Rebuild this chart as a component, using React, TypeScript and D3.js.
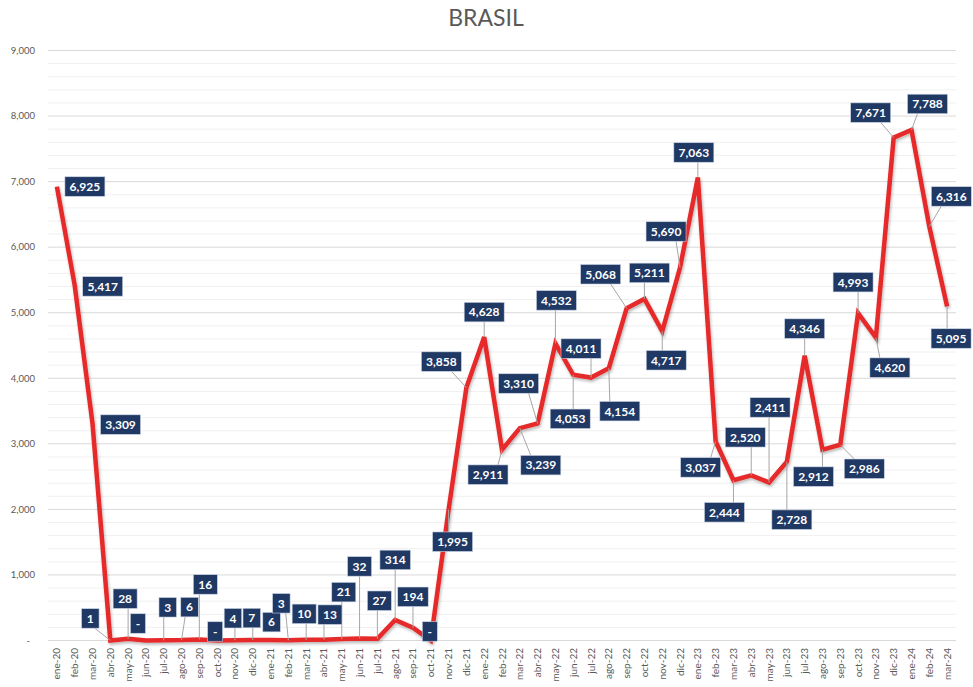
import React from "react";
import * as d3 from "d3";

const months = [
  "ene-20","feb-20","mar-20","abr-20","may-20","jun-20","jul-20","ago-20","sep-20","oct-20","nov-20","dic-20",
  "ene-21","feb-21","mar-21","abr-21","may-21","jun-21","jul-21","ago-21","sep-21","oct-21","nov-21","dic-21",
  "ene-22","feb-22","mar-22","abr-22","may-22","jun-22","jul-22","ago-22","sep-22","oct-22","nov-22","dic-22",
  "ene-23","feb-23","mar-23","abr-23","may-23","jun-23","jul-23","ago-23","sep-23","oct-23","nov-23","dic-23",
  "ene-24","feb-24","mar-24",
];

const values = [
  6925, 5417, 3309, 1, 28, 0, 3, 6, 16, 0, 4, 7,
  6, 3, 10, 13, 21, 32, 27, 314, 194, 0, 1995, 3858,
  4628, 2911, 3239, 3310, 4532, 4053, 4011, 4154, 5068, 5211, 4717, 5690,
  7063, 3037, 2444, 2520, 2411, 2728, 4346, 2912, 2986, 4993, 4620, 7671,
  7788, 6316, 5095,
];

const yTicks = [0, 1000, 2000, 3000, 4000, 5000, 6000, 7000, 8000, 9000];

// label placement offsets (px) of each data label box centre relative to its point
const labelOffsets: [number, number][] = [
  [28, 0], [28, 1], [28, 1], [-20, -22], [-3, -40], [-8, -17], [4, -33], [8, -33], [6, -55], [-2, -9], [-2, -22], [-1, -22],
  [1, -18], [-7, -37], [-2, -26], [6, -25], [2, -47], [0, -72], [2, -38], [0, -60], [0, -31], [-1, -9], [4, 32], [-25, -26],
  [0, -25], [-14, 25], [21, 37], [-19, -40], [1, -43], [-3, 44], [-10, -29], [11, 43], [-26, -34], [5, -26], [4, 29], [-14, -36],
  [-4, -25], [-15, 26], [-9, 32], [-6, -38], [1, -75], [5, 58], [0, -27], [-9, 27], [24, 24], [-5, -31], [14, 30], [-23, -25],
  [16, -26], [22, -30], [4, 32],
];

const W = 973;
const H = 687;
const PL = 48;
const PR = 956;
const Y0 = 640.5;
const Y9 = 50.5;

const FONT = "Lato, 'Open Sans', sans-serif";

export default function App() {
  const x = d3.scaleBand<string>().domain(months).range([PL, PR]).padding(0);
  const y = d3.scaleLinear().domain([0, 9000]).range([Y0, Y9]);
  const cx = (i: number) => (x(months[i]) as number) + x.bandwidth() / 2;

  const line = d3
    .line<number>()
    .x((_, i) => cx(i))
    .y((v) => y(v));

  const fmt = d3.format(",");
  const labelText = (v: number) => (v === 0 ? "-" : fmt(v));

  const minor = d3.range(0, 9001, 200).filter((v) => v % 1000 !== 0);

  const labels = values.map((v, i) => {
    const px = cx(i);
    const py = y(v);
    const t = labelText(v);
    const digits = t.replace(/[^0-9]/g, "").length;
    const commas = (t.match(/,/g) || []).length;
    const w = t === "-" ? 15 : 11 + 6.5 * digits + 3 * commas;
    const h = 19.5;
    const bx = px + labelOffsets[i][0];
    const by = py + labelOffsets[i][1];
    const left = bx - w / 2, right = bx + w / 2, top = by - h / 2, bottom = by + h / 2;
    const gx = px < left ? left - px : px > right ? px - right : 0;
    const gy = py < top ? top - py : py > bottom ? py - bottom : 0;
    const gap = Math.hypot(gx, gy);
    let leader: [number, number, number, number] | null = null;
    if (gap > 9) {
      let ax: number, ay: number;
      if (py > bottom) {
        ax = Math.max(bx - w / 4, Math.min(bx + w / 4, px));
        ay = bottom;
      } else if (py < top) {
        ax = Math.max(bx - w / 4, Math.min(bx + w / 4, px));
        ay = top;
      } else {
        ax = px < left ? left : right;
        ay = by;
      }
      leader = [ax, ay, px, py];
    }
    return { t, bx, by, w, h, leader };
  });

  return (
    <svg
      width={W}
      height={H}
      style={{ position: "absolute", left: 0, top: 0, background: "#fff" }}
      fontFamily={FONT}
    >
      <defs>
        <filter id="shadow" x="-10%" y="-10%" width="120%" height="120%">
          <feDropShadow dx="1" dy="2" stdDeviation="1.5" floodColor="#000" floodOpacity="0.28" />
        </filter>
      </defs>
      <rect x={0} y={0} width={W} height={H} fill="#fff" />
      <text x={486} y={26} textAnchor="middle" fontSize={23} fill="#595959">
        BRASIL
      </text>

      {minor.map((v) => (
        <line key={"m" + v} x1={PL} x2={PR} y1={y(v)} y2={y(v)} stroke="#f0f0f0" strokeWidth={1} />
      ))}
      {yTicks.map((v) => (
        <g key={"t" + v}>
          <line x1={PL} x2={PR} y1={y(v)} y2={y(v)} stroke="#d9d9d9" strokeWidth={1} />
          <text
            x={v === 0 ? 30 : 35}
            y={y(v)}
            dy="0.35em"
            textAnchor="end"
            fontSize={9.5}
            fill="#595959"
          >
            {v === 0 ? "-" : fmt(v)}
          </text>
        </g>
      ))}

      {months.map((m, i) => (
        <text
          key={m}
          transform={`translate(${cx(i) + 3.5},${648}) rotate(-90)`}
          textAnchor="end"
          fontSize={10}
          fill="#595959"
        >
          {m}
        </text>
      ))}

      <path
        d={line(values) || ""}
        fill="none"
        stroke="#E62A2C"
        strokeWidth={4.5}
        strokeLinejoin="miter"
        filter="url(#shadow)"
      />

      {labels.map((l, i) =>
        l.leader ? (
          <line
            key={"l" + i}
            x1={l.leader[0]}
            y1={l.leader[1]}
            x2={l.leader[2]}
            y2={l.leader[3]}
            stroke="#a6a6a6"
            strokeWidth={1}
          />
        ) : null
      )}
      {labels.map((l, i) => (
        <g key={"b" + i}>
          <rect
            x={l.bx - l.w / 2}
            y={l.by - l.h / 2}
            width={l.w}
            height={l.h}
            fill="#1F3864"
            stroke="#c9d3e3"
            strokeWidth={0.6}
          />
          <text
            x={l.bx}
            y={l.by}
            dy="0.36em"
            textAnchor="middle"
            fontSize={12}
            fontWeight="bold"
            fill="#fff"
          >
            {l.t}
          </text>
        </g>
      ))}
    </svg>
  );
}
